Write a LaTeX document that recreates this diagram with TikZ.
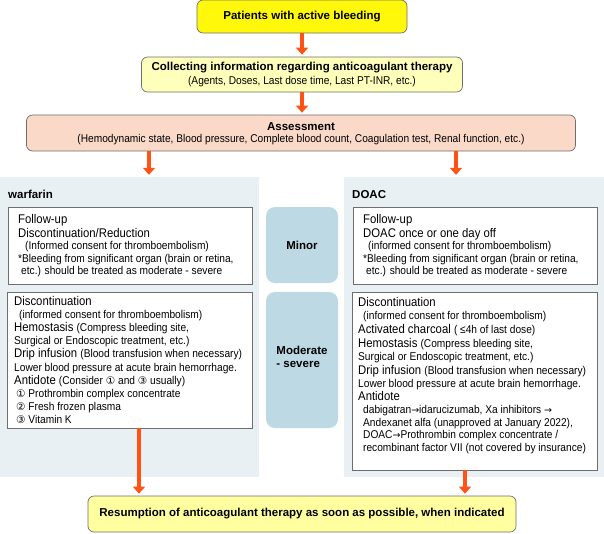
\documentclass[tikz,border=0pt]{standalone}
\usepackage{fontspec}
\setmainfont{Liberation Sans}
\newfontfamily\narrowf[FakeStretch=0.9]{Liberation Sans}
\newfontfamily\symf{DejaVu Sans}
\usetikzlibrary{arrows.meta}
\definecolor{arr}{RGB}{255,82,20}
\definecolor{yel}{RGB}{255,248,10}
\definecolor{paleyel}{RGB}{255,255,188}
\definecolor{salmon}{RGB}{250,217,201}
\definecolor{panelc}{RGB}{232,240,243}
\definecolor{sevc}{RGB}{189,218,228}
\definecolor{finyel}{RGB}{255,255,160}
\definecolor{bord}{RGB}{110,110,110}
\newcommand\fL{\narrowf\fontsize{12.6}{13}\selectfont}
\newcommand\fS{\narrowf\fontsize{11.3}{13}\selectfont}
\newcommand\fB{\fontsize{11.5}{13}\selectfont\bfseries}
\newcommand\cnum[1]{{\symf\fontsize{10.5}{13}\selectfont #1}}
\newcommand\rar{{\symf\fontsize{9.5}{13}\selectfont →}}
\begin{document}
\begin{tikzpicture}[x=1pt,y=-1pt,
  box/.style={draw=bord, line width=0.7pt, rounded corners=6pt, inner sep=0pt},
  wbox/.style={draw=bord, fill=white, line width=0.6pt, inner sep=0pt},
  panel/.style={fill=panelc, draw=none, inner sep=0pt},
  sevbox/.style={fill=sevc, draw=none, rounded corners=9pt, inner sep=0pt},
  tl/.style={anchor=base west, inner sep=0pt, font=\fL},
  ts/.style={anchor=base west, inner sep=0pt, font=\fS},
  tb/.style={anchor=center, inner sep=0pt, font=\fB},
  tc/.style={anchor=center, inner sep=0pt, font=\fS},
  flow/.style={draw=arr, line width=3.6pt, -{Triangle[width=12pt,length=7pt]}, shorten >=2pt}
]
\useasboundingbox (0,0) rectangle (604,533);

% top boxes
\node[box, fill=yel, minimum width=210pt, minimum height=33pt] (start) at (302,16.5) {};
\node[tb] (startt) at (302,17) {Patients with active bleeding};
\node[box, fill=paleyel, minimum width=321pt, minimum height=35pt] (collect) at (302,74.5) {};
\node[tb] (collectt) at (302,68) {Collecting information regarding anticoagulant therapy};
\node[tc] (collects) at (302,82) {(Agents, Doses, Last dose time, Last PT-INR, etc.)};
\node[box, fill=salmon, minimum width=549pt, minimum height=36pt] (assess) at (301,133) {};
\node[tb] (assesst) at (301,127) {Assessment};
\node[tc] (assesss) at (301,140) {(Hemodynamic state, Blood pressure, Complete blood count, Coagulation test, Renal function, etc.)};

% panels
\node[panel, minimum width=259pt, minimum height=300pt] (lpanel) at (129.5,327) {};
\node[panel, minimum width=260pt, minimum height=300pt] (rpanel) at (474,327) {};
\node[tb, anchor=base west] (warf) at (8,198) {warfarin};
\node[tb, anchor=base west] (doac) at (352,198) {DOAC};

% severity boxes
\node[sevbox, minimum width=72pt, minimum height=76pt] (minor) at (302,245) {};
\node[tb] (minort) at (302,245) {Minor};
\node[sevbox, minimum width=72pt, minimum height=136pt] (mod) at (302,360) {};
\node[tb, align=left] (modt) at (302,357) {Moderate\\- severe};

% white boxes
\node[wbox, minimum width=244pt, minimum height=77pt] (lb1) at (130,245.5) {};
\node[wbox, minimum width=245pt, minimum height=136pt] (lb2) at (129.5,360) {};
\node[wbox, minimum width=244pt, minimum height=77pt] (rb1) at (475,245.5) {};
\node[wbox, minimum width=245pt, minimum height=178pt] (rb2) at (474.5,381) {};

% left box 1
\node[tl] (a1) at (18,223.5) {Follow-up};
\node[tl] (a2) at (18,237) {Discontinuation/Reduction};
\node[ts] (a3) at (25,249.5) {(Informed consent for thromboembolism)};
\node[ts] (a4) at (18,262) {*Bleeding from significant organ (brain or retina,};
\node[ts] (a5) at (21,274.5) {etc.) should be treated as moderate - severe};

% left box 2
\node[tl] (b1) at (14,305) {Discontinuation};
\node[ts] (b2) at (19,318) {(informed consent for thromboembolism)};
\node[tl] (b3) at (14,331) {Hemostasis {\fS(Compress bleeding site,}};
\node[ts] (b4) at (14,344) {Surgical or Endoscopic treatment, etc.)};
\node[tl] (b5) at (14,357.5) {Drip infusion {\fS(Blood transfusion when necessary)}};
\node[ts] (b6) at (14,371) {Lower blood pressure at acute brain hemorrhage.};
\node[tl] (b7) at (14,384) {Antidote {\fS(Consider \cnum{①} and \cnum{③} usually)}};
\node[ts] (b8) at (16,397) {\cnum{①} Prothrombin complex concentrate};
\node[ts] (b9) at (16,410) {\cnum{②} Fresh frozen plasma};
\node[ts] (b10) at (16,423) {\cnum{③} Vitamin K};

% right box 1
\node[tl] (c1) at (363,223.5) {Follow-up};
\node[tl] (c2) at (363,237) {DOAC once or one day off};
\node[ts] (c3) at (368,249.5) {(informed consent for thromboembolism)};
\node[ts] (c4) at (363,262) {*Bleeding from significant organ (brain or retina,};
\node[ts] (c5) at (366,274.5) {etc.) should be treated as moderate - severe};

% right box 2
\node[tl] (d1) at (358,306) {Discontinuation};
\node[ts] (d2) at (363,319.5) {(informed consent for thromboembolism)};
\node[tl] (d3) at (358,333) {Activated charcoal {\fS( ≤4h of last dose)}};
\node[tl] (d4) at (358,347) {Hemostasis {\fS(Compress bleeding site,}};
\node[ts] (d5) at (358,360) {Surgical or Endoscopic treatment, etc.)};
\node[tl] (d6) at (358,374) {Drip infusion {\fS(Blood transfusion when necessary)}};
\node[ts] (d7) at (358,387) {Lower blood pressure at acute brain hemorrhage.};
\node[tl] (d8) at (358,400) {Antidote};
\node[ts] (d9) at (363,413) {dabigatran\rar idarucizumab, Xa inhibitors \rar};
\node[ts] (d10) at (363,426) {Andexanet alfa (unapproved at January 2022),};
\node[ts] (d11) at (363,438.5) {DOAC\rar Prothrombin complex concentrate /};
\node[ts] (d12) at (363,451) {recombinant factor VII (not covered by insurance)};

% final box
\node[box, fill=finyel, minimum width=428pt, minimum height=36pt] (final) at (302,514) {};
\node[tb] (finalt) at (302,514) {Resumption of anticoagulant therapy as soon as possible, when indicated};

% connectors
\coordinate (xl) at (149,0);
\coordinate (xr) at (456,0);
\coordinate (xfl) at (139,0);
\coordinate (xfr) at (465,0);
\draw[flow] (start.south) -- (collect.north);
\draw[flow] (collect.south) -- (assess.north -| collect.south);
\draw[flow] (assess.south -| xl) -- (lpanel.north -| xl);
\draw[flow] (assess.south -| xr) -- (rpanel.north -| xr);
\draw[flow] (lb2.south -| xfl) -- (final.north -| xfl);
\draw[flow] (rb2.south -| xfr) -- (final.north -| xfr);
\end{tikzpicture}
\end{document}
